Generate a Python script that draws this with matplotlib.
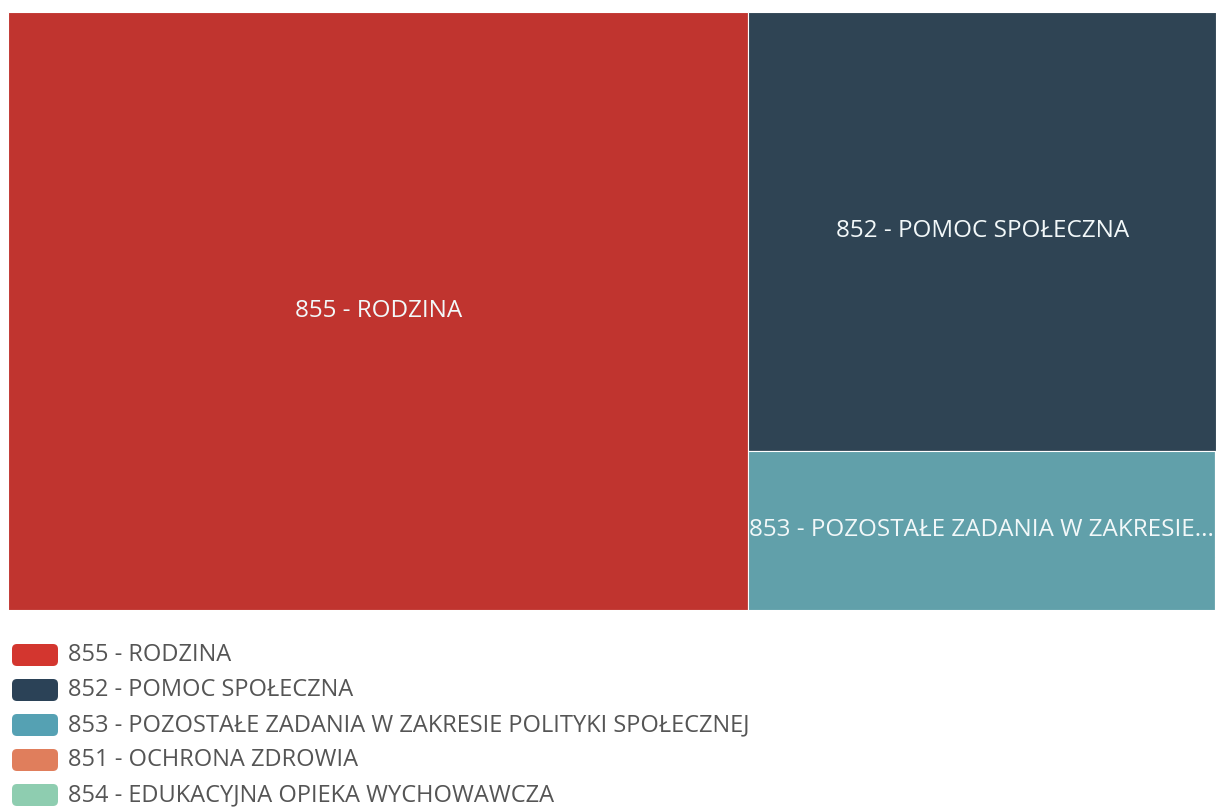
import matplotlib.pyplot as plt
from matplotlib.patches import Rectangle, FancyBboxPatch

# category codes/names, share of spending (read from tile areas, %)
categories = [
  "855 - RODZINA",
  "852 - POMOC SPOŁECZNA",
  "853 - POZOSTAŁE ZADANIA W ZAKRESIE POLITYKI SPOŁECZNEJ",
  "851 - OCHRONA ZDROWIA",
  "854 - EDUKACYJNA OPIEKA WYCHOWAWCZA",
]
tileLabels = [
  "855 - RODZINA",
  "852 - POMOC SPOŁECZNA",
  "853 - POZOSTAŁE ZADANIA W ZAKRESIE...",
  "",
  "",
]
values = [61.3, 28.4, 10.3, 0.02, 0.01]

tileColors = ["#C0342F", "#2F4454", "#61A0AA", "#DE7E5E", "#8FCDB1"]
legendColors = ["#D3362F", "#2B4257", "#55A1B3", "#E07E5C", "#8ECDB0"]

plt.rcParams['font.family'] = ['Open Sans', 'DejaVu Sans']


def worst(row, side):
  s = sum(row)
  return max(max(side * side * r / (s * s), s * s / (side * side * r)) for r in row)


def squarify(sizes, x, y, w, h):
  # sizes already scaled to area w*h
  rects = []
  sizes = list(sizes)
  while sizes:
    side = min(w, h)
    row = [sizes.pop(0)]
    while sizes and worst(row + [sizes[0]], side) <= worst(row, side):
      row.append(sizes.pop(0))
    s = sum(row)
    if w >= h:
      # column on the left, stacked from the top
      colW = s / h
      yy = y + h
      for r in row:
        rh = r / colW
        rects.append((x, yy - rh, colW, rh))
        yy -= rh
      x += colW
      w -= colW
    else:
      # row on top, left to right
      rowH = s / w
      xx = x
      for r in row:
        rw = r / rowH
        rects.append((xx, y + h - rowH, rw, rowH))
        xx += rw
      h -= rowH
  return rects


W, H = 1208.0, 598.0
total = sum(values)
scaled = [v / total * W * H for v in values]
rects = squarify(scaled, 0, 0, W, H)

fig = plt.figure(figsize=(12.16, 8.08), dpi=100)
ax = fig.add_axes([8 / 1216, 1 - 610 / 808, 1208 / 1216, 598 / 808])
ax.set_xlim(0, W)
ax.set_ylim(0, H)
ax.axis('off')

for (rx, ry, rw, rh), col, lab in zip(rects, tileColors, tileLabels):
  ax.add_patch(Rectangle((rx, ry), rw, rh, facecolor=col, edgecolor="white", linewidth=0.8))
  if lab:
    ax.text(rx + rw / 2, ry + rh / 2, lab, color="#F2F8F9", fontsize=17.5,
            ha='center', va='center')

# legend below the treemap
lax = fig.add_axes([0, 0, 1, 1 - 625 / 808])
lax.set_xlim(0, 1216)
lax.set_ylim(183, 0)
lax.axis('off')
for i, (name, col) in enumerate(zip(categories, legendColors)):
  yc = 30 + i * 35
  lax.add_patch(FancyBboxPatch((12, yc - 11), 46, 22, boxstyle="round,pad=0,rounding_size=5",
                               facecolor=col, edgecolor="none"))
  lax.text(68, yc, name, color="#555555", fontsize=17, ha='left', va='center')

fig.savefig("out.png", dpi=100)
